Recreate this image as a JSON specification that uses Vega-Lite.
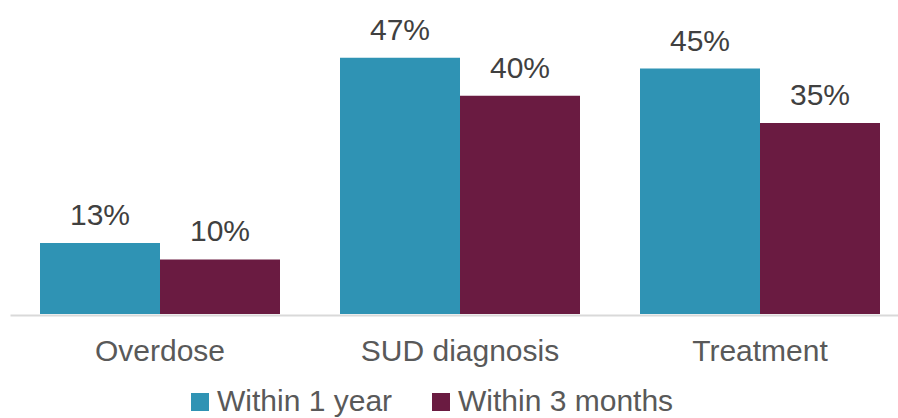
{
  "$schema": "https://vega.github.io/schema/vega-lite/v6.json",
  "width": 888,
  "height": 300,
  "autosize": {"type": "none"},
  "padding": {"left": 10, "top": 14, "right": 0, "bottom": 104},
  "config": {
    "view": {"stroke": null},
    "font": "Liberation Sans"
  },
  "data": {
    "values": [
      {"category": "Overdose", "series": "Within 1 year", "value": 0.13},
      {"category": "Overdose", "series": "Within 3 months", "value": 0.10},
      {"category": "SUD diagnosis", "series": "Within 1 year", "value": 0.47},
      {"category": "SUD diagnosis", "series": "Within 3 months", "value": 0.40},
      {"category": "Treatment", "series": "Within 1 year", "value": 0.45},
      {"category": "Treatment", "series": "Within 3 months", "value": 0.35}
    ]
  },
  "encoding": {
    "x": {
      "field": "category",
      "type": "nominal",
      "sort": ["Overdose", "SUD diagnosis", "Treatment"],
      "scale": {"paddingInner": 0.2, "paddingOuter": 0.08, "align": 0.625},
      "axis": {
        "title": null,
        "labelAngle": 0,
        "ticks": false,
        "labelPadding": 21,
        "labelFontSize": 30,
        "labelColor": "#595959",
        "labelFont": "Liberation Sans",
        "labelLimit": 400,
        "domainColor": "#D9D9D9",
        "domainWidth": 2,
        "offset": 1,
        "grid": false
      }
    },
    "xOffset": {
      "field": "series",
      "type": "nominal",
      "sort": ["Within 1 year", "Within 3 months"],
      "scale": {"paddingInner": 0, "paddingOuter": 0}
    },
    "y": {
      "field": "value",
      "type": "quantitative",
      "scale": {"domain": [0, 0.55], "nice": false},
      "axis": null
    }
  },
  "layer": [
    {
      "mark": {"type": "bar"},
      "encoding": {
        "color": {
          "field": "series",
          "type": "nominal",
          "sort": ["Within 1 year", "Within 3 months"],
          "scale": {"domain": ["Within 1 year", "Within 3 months"], "range": ["#2F93B4", "#6A1B41"]},
          "legend": {
            "title": null,
            "orient": "none",
            "direction": "horizontal",
            "legendX": 175,
            "legendY": 373,
            "padding": 0,
            "symbolType": "square",
            "symbolSize": 324,
            "symbolStrokeWidth": 0,
            "symbolOpacity": 1,
            "labelFontSize": 30,
            "labelColor": "#595959",
            "labelFont": "Liberation Sans",
            "labelOffset": 2,
            "labelLimit": 400,
            "columnPadding": 33
          }
        }
      }
    },
    {
      "mark": {"type": "text", "baseline": "alphabetic", "dy": -18, "fontSize": 30, "color": "#404040", "font": "Liberation Sans"},
      "encoding": {
        "text": {"field": "value", "type": "quantitative", "format": ".0%"}
      }
    }
  ]
}
